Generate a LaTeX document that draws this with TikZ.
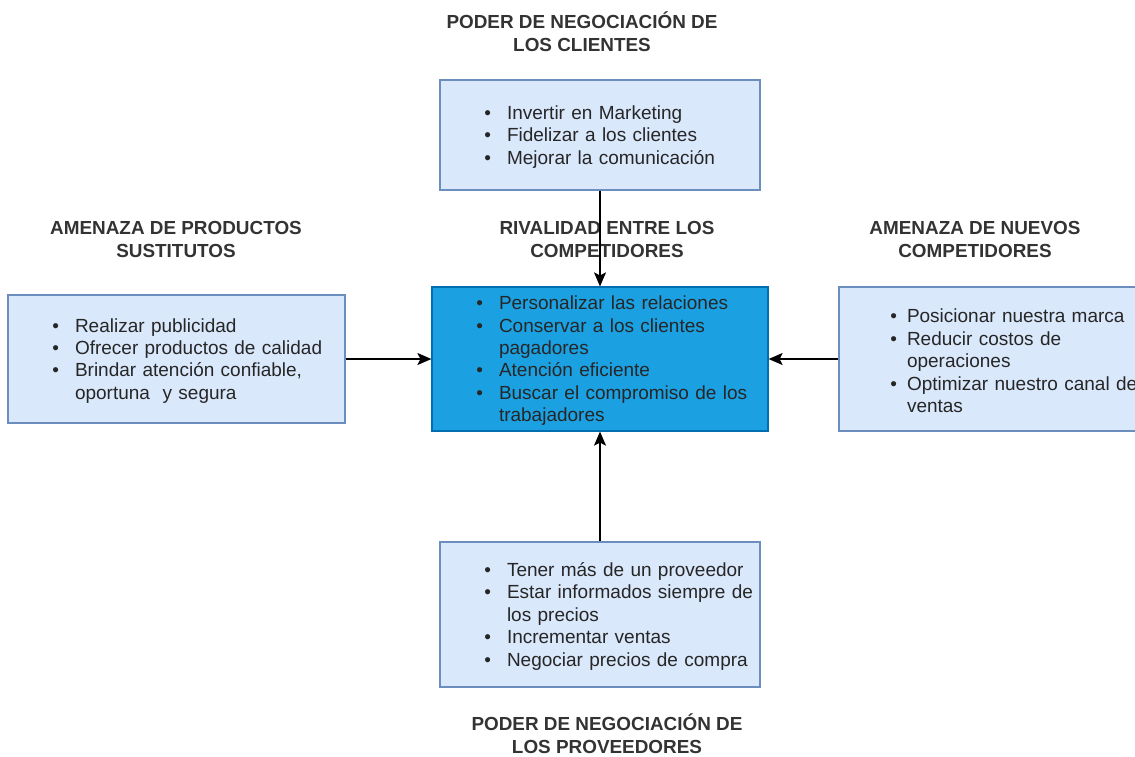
\documentclass[tikz,border=0pt]{standalone}
\usepackage{fontspec}
\setmainfont{Liberation Sans}
\usepackage{enumitem}
\usetikzlibrary{positioning,arrows.meta}

\definecolor{boxfill}{HTML}{DAE8FC}
\definecolor{boxline}{HTML}{6C8EBF}
\definecolor{corefill}{HTML}{1BA1E2}
\definecolor{coreline}{HTML}{006EAF}
\definecolor{ink}{HTML}{262626}
\definecolor{head}{HTML}{333333}

\newlist{pts}{itemize}{1}
\setlist[pts]{label=\textbullet, leftmargin=67pt, labelsep=16pt, topsep=0pt,
  partopsep=0pt, parsep=0pt, itemsep=0pt, after=\vspace{5pt}}

\tikzset{
  force/.style={rectangle, draw=boxline, fill=boxfill, line width=1.2pt,
    inner xsep=0pt, inner ysep=0pt, align=left, text=ink,
    font=\fontsize{19}{22.4}\selectfont},
  core/.style={force, draw=coreline, fill=corefill},
  title/.style={align=center, text=head, inner sep=0pt,
    font=\fontsize{18.9}{23}\selectfont\bfseries},
  push/.style={-{Stealth[length=14pt,width=12pt,inset=3pt]}, line width=1.3pt, draw=black}
}

\begin{document}
\begin{tikzpicture}[x=1pt, y=-1pt]
        \useasboundingbox (0,0) rectangle (1135,756);
        \clip (0,0) rectangle (1135,756);

        \node (clients) [force, text width=320pt, minimum height=110pt] at (600, 135) {
\begin{pts}
\item Invertir en Marketing
\item Fidelizar a los clientes
\item Mejorar la comunicación
\end{pts}};
        \node (subst) [force, text width=337pt, minimum height=128pt] at (176.5, 359) {
\begin{pts}
\item Realizar publicidad
\item Ofrecer productos de calidad
\item Brindar atención confiable,\newline oportuna\ \ y segura
\end{pts}};
        \node (rival) [core, text width=336pt, minimum height=144pt] at (600, 359) {
\begin{pts}
\item Personalizar las relaciones
\item Conservar a los clientes\newline pagadores
\item Atención eficiente
\item Buscar el compromiso de los\newline trabajadores
\end{pts}};
        \node (entrants) [force, text width=336pt, minimum height=144pt] at (1007, 359) {
\begin{pts}[leftmargin=68pt, labelsep=10pt]
\item Posicionar nuestra marca
\item Reducir costos de\newline operaciones
\item Optimizar nuestro canal de\newline ventas
\end{pts}};
        \node (suppliers) [force, text width=320pt, minimum height=145pt] at (600, 614.5) {
\begin{pts}
\item Tener más de un proveedor
\item Estar informados siempre de\newline los precios
\item Incrementar ventas
\item Negociar precios de compra
\end{pts}};

        \node (t-clients) [title] at (582, 32) {PODER DE NEGOCIACIÓN DE\\LOS CLIENTES};
        \node (t-subst) [title] at (176, 239) {AMENAZA DE PRODUCTOS\\SUSTITUTOS};
        \node (t-rival) [title] at (607, 239) {RIVALIDAD ENTRE LOS\\COMPETIDORES};
        \node (t-entrants) [title] at (975, 239) {AMENAZA DE NUEVOS\\COMPETIDORES};
        \node (t-suppliers) [title] at (607, 733.5) {PODER DE NEGOCIACIÓN DE\\LOS PROVEEDORES};

        \draw [push] (clients) -- (rival);
        \draw [push] (subst) -- (rival.west |- subst);
        \draw [push] (entrants.west) -- (rival.east);
        \draw [push] (suppliers) -- (rival);
\end{tikzpicture}
\end{document}
